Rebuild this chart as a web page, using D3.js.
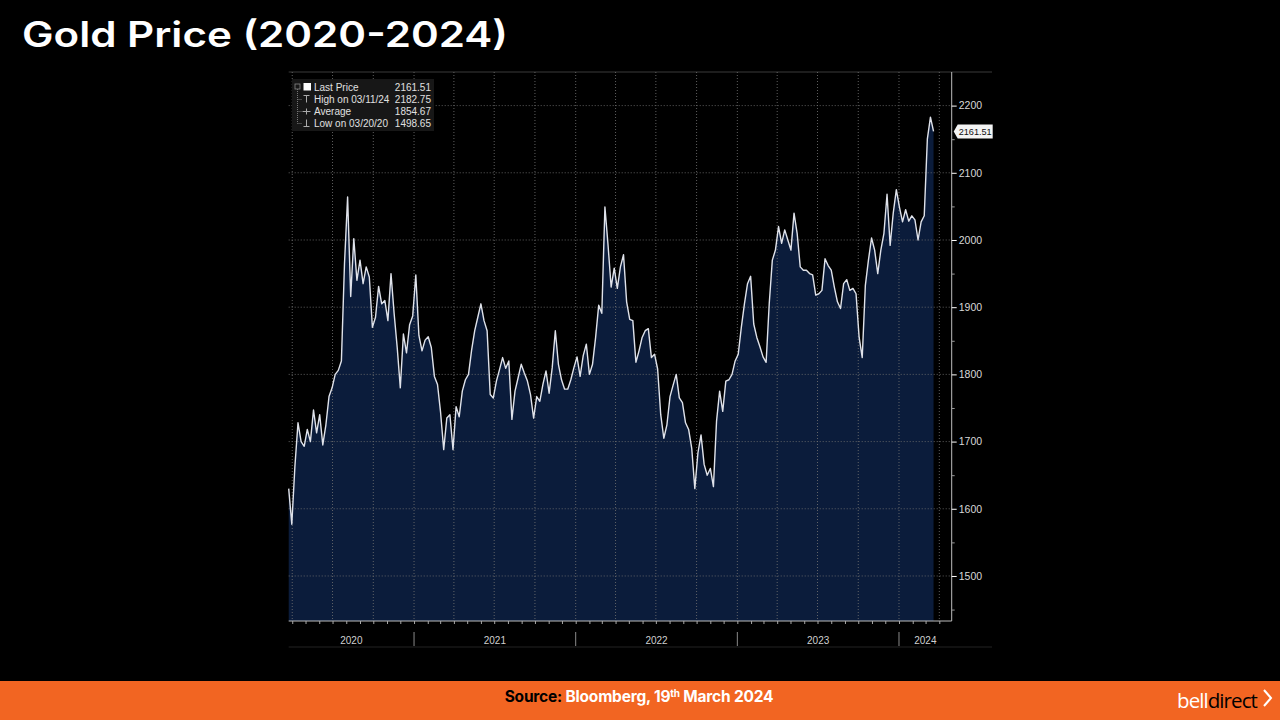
<!DOCTYPE html>
<html><head><meta charset="utf-8">
<script src="https://cdn.jsdelivr.net/npm/d3@7"></script>
<style>html,body{margin:0;padding:0;background:#000;} svg{display:block}</style>
</head><body>
<svg id="c" width="1280" height="720"></svg>
<script>
// ---- data (weekly samples) ----
const startDate = "2020-03-24";
const prices = [
  1630,1577,1663,1728,1700,1693,1718,1700,1747,1713,
  1740,1695,1725,1767,1780,1800,1806,1820,1965,2064,
  1916,2002,1940,1970,1935,1960,1945,1870,1885,1931,
  1905,1910,1880,1950,1891,1840,1780,1860,1832,1874,
  1887,1948,1858,1835,1851,1856,1840,1797,1785,1743,
  1688,1735,1740,1688,1752,1737,1775,1792,1800,1836,
  1865,1885,1905,1880,1865,1770,1765,1790,1807,1825,
  1809,1820,1733,1775,1795,1815,1802,1790,1770,1735,
  1767,1760,1785,1805,1772,1810,1865,1815,1792,1778,
  1778,1792,1810,1826,1797,1828,1845,1800,1815,1855,
  1903,1891,2049,1993,1930,1958,1928,1960,1978,1908,
  1882,1880,1818,1835,1855,1865,1868,1825,1830,1808,
  1740,1705,1725,1767,1784,1800,1765,1758,1728,1718,
  1690,1630,1683,1710,1666,1650,1660,1633,1730,1775,
  1745,1790,1792,1800,1820,1830,1870,1905,1935,1946,
  1875,1855,1841,1826,1818,1905,1970,1985,2020,1995,
  2015,2000,1985,2040,2010,1960,1955,1955,1950,1948,
  1918,1920,1925,1972,1962,1955,1930,1908,1898,1935,
  1941,1925,1928,1920,1855,1825,1932,1970,2003,1985,
  1950,1985,2010,2068,1992,2040,2075,2049,2027,2045,
  2028,2036,2030,2000,2027,2036,2150,2182.75,2161.51
];
const yTicks = [1500,1600,1700,1800,1900,2000,2100,2200];
const yMinorTicks = [1450,1550,1650,1750,1850,1950,2050,2150];
const yearLabels = ["2020","2021","2022","2023","2024"];
const legendLabels = ["Last Price","High on 03/11/24","Average","Low on 03/20/20"];
const legendValues = ["2161.51","2182.75","1854.67","1498.65"];
const lastPrice = 2161.51;
const titleText = "Gold Price (2020-2024)";

// ---- setup ----
const svg = d3.select("#c");
svg.append("rect").attr("width",1280).attr("height",720).attr("fill","#000");

const parse = d3.timeParse("%Y-%m-%d");
const t0 = parse(startDate);
const dates = prices.map((_, i) => d3.timeDay.offset(t0, 7 * i));
const data = prices.map((p, i) => ({date: dates[i], value: p}));

const L = 288.7, R = 951.7, T = 72, B = 621;
const x = d3.scaleTime().domain([t0, parse("2024-04-29")]).range([L, R]);
const y = d3.scaleLinear().domain([1433, 2250]).range([B, T]);
const small = "'Liberation Sans', Arial, sans-serif";

// title
svg.append("text").attr("x",22).attr("y",47)
  .attr("font-family","Inter, 'Open Sans', sans-serif").attr("font-weight",600)
  .attr("font-size",35).attr("fill","#fff")
  .attr("textLength",486).attr("lengthAdjust","spacingAndGlyphs")
  .text(titleText);

// panel borders
svg.append("line").attr("x1",L).attr("x2",992).attr("y1",T).attr("y2",T)
  .attr("stroke","#3a3a3a").attr("stroke-width",1);
svg.append("line").attr("x1",L).attr("x2",992).attr("y1",647).attr("y2",647)
  .attr("stroke","#222").attr("stroke-width",1);

// area + line
const area = d3.area().x(d => x(d.date)).y0(B).y1(d => y(d.value));
const line = d3.line().x(d => x(d.date)).y(d => y(d.value));
svg.append("path").datum(data).attr("d",area).attr("fill","#0b1c3b");

// grid
const g = svg.append("g");
g.selectAll(".hg").data(yTicks).join("line")
  .attr("x1",L).attr("x2",R).attr("y1",d=>y(d)).attr("y2",d=>y(d))
  .attr("stroke","#707070").attr("stroke-width",1).attr("stroke-dasharray","1,2").attr("opacity",0.85);
const quarters = d3.timeMonth.every(3).range(parse("2020-04-01"), x.domain()[1]);
g.selectAll(".vg").data(quarters).join("line")
  .attr("x1",d=>x(d)).attr("x2",d=>x(d)).attr("y1",T).attr("y2",B)
  .attr("stroke","#707070").attr("stroke-width",1).attr("stroke-dasharray","1,2").attr("opacity",0.85);

svg.append("path").datum(data).attr("d",line).attr("fill","none")
  .attr("stroke","#dfe2ea").attr("stroke-width",1.4).attr("stroke-linejoin","round");

// right axis
svg.append("line").attr("x1",R).attr("x2",R).attr("y1",T).attr("y2",B).attr("stroke","#bdbdbd");
const ay = svg.append("g").attr("transform",`translate(${R},0)`)
  .call(d3.axisRight(y).tickValues(yTicks).tickSize(5).tickPadding(2).tickFormat(d3.format("d")));
ay.select(".domain").remove();
ay.selectAll("line").attr("stroke","#fff");
ay.selectAll("text").attr("fill","#d8d8d8").attr("font-family",small).attr("font-size",10.5);
const aym = svg.append("g").attr("transform",`translate(${R},0)`)
  .call(d3.axisRight(y).tickValues(yMinorTicks).tickSize(3).tickFormat(""));
aym.select(".domain").remove();
aym.selectAll("line").attr("stroke","#999");

// last price tag
const ly = y(lastPrice);
svg.append("path")
  .attr("d",`M${R+2},${ly} L${R+6},${ly-7} L${R+41},${ly-7} L${R+41},${ly+7} L${R+6},${ly+7} Z`)
  .attr("fill","#f4f4f4");
svg.append("text").attr("x",R+23.5).attr("y",ly+3.5).attr("text-anchor","middle")
  .attr("font-family",small).attr("font-size",9.5).attr("fill","#111")
  .attr("textLength",33).attr("lengthAdjust","spacingAndGlyphs")
  .text(d3.format(".2f")(lastPrice));

// bottom axis
svg.append("line").attr("x1",L).attr("x2",R).attr("y1",B).attr("y2",B).attr("stroke","#bdbdbd");
const ax = svg.append("g").attr("transform",`translate(0,${B})`)
  .call(d3.axisBottom(x).ticks(d3.timeMonth.every(1)).tickSize(3).tickFormat(""));
ax.select(".domain").remove();
ax.selectAll("line").attr("stroke","#aaa");

const yearStarts = d3.timeYear.range(parse("2021-01-01"), x.domain()[1]);
svg.selectAll(".ysep").data(yearStarts).join("line")
  .attr("x1",d=>x(d)).attr("x2",d=>x(d)).attr("y1",632).attr("y2",646)
  .attr("stroke","#8a8a8a").attr("stroke-width",1);
svg.selectAll(".ylab").data(yearLabels).join("text")
  .attr("x", d => {
    const a = Math.max(x(new Date(+d,0,1)), L);
    const b = Math.min(x(new Date(+d+1,0,1)), R);
    return (a+b)/2;
  })
  .attr("y",644).attr("text-anchor","middle")
  .attr("font-family",small).attr("font-size",10).attr("fill","#cfcfcf")
  .text(d=>d);

// legend
const lg = svg.append("g");
lg.append("rect").attr("x",292).attr("y",79).attr("width",142).attr("height",52).attr("fill","#171717");
const rowY = [87.5, 99.5, 111.5, 123.5];
lg.append("rect").attr("x",295).attr("y",84).attr("width",5).attr("height",5)
  .attr("fill","none").attr("stroke","#888").attr("stroke-width",0.8);
lg.append("line").attr("x1",297.5).attr("x2",297.5).attr("y1",89).attr("y2",rowY[3])
  .attr("stroke","#777").attr("stroke-dasharray","1,1");
lg.selectAll(".br").data(rowY.slice(1)).join("line")
  .attr("x1",297.5).attr("x2",302).attr("y1",d=>d).attr("y2",d=>d)
  .attr("stroke","#777").attr("stroke-dasharray","1,1");
lg.append("rect").attr("x",303.5).attr("y",83).attr("width",7.5).attr("height",7.5).attr("fill","#fff");
lg.append("path").attr("d",`M303.5,${rowY[1]-4} H309.5 M306.5,${rowY[1]-4} V${rowY[1]+3}`).attr("stroke","#aaa").attr("fill","none");
lg.append("path").attr("d",`M302.5,${rowY[2]} H310.5 M306.5,${rowY[2]-3} V${rowY[2]+3}`).attr("stroke","#aaa").attr("fill","none");
lg.append("path").attr("d",`M303.5,${rowY[3]+3} H309.5 M306.5,${rowY[3]-4} V${rowY[3]+3}`).attr("stroke","#aaa").attr("fill","none");
lg.selectAll(".lt").data(legendLabels).join("text")
  .attr("x",314).attr("y",(d,i)=>rowY[i]+3.5)
  .attr("font-family",small).attr("font-size",10).attr("fill","#e0e0e0")
  .text(d=>d);
lg.selectAll(".lv").data(legendValues).join("text")
  .attr("x",431).attr("y",(d,i)=>rowY[i]+3.5).attr("text-anchor","end")
  .attr("font-family",small).attr("font-size",10).attr("fill","#e0e0e0")
  .text(d=>d);

// footer
svg.append("rect").attr("x",0).attr("y",681).attr("width",1280).attr("height",39).attr("fill","#f26522");
const ft = svg.append("text").attr("x",639).attr("y",702).attr("text-anchor","middle")
  .attr("font-family","Inter, 'Open Sans', sans-serif").attr("font-weight",700).attr("font-size",15.5)
  .attr("letter-spacing",-0.2);
ft.append("tspan").attr("fill","#000").text("Source: ");
ft.append("tspan").attr("fill","#fff").text("Bloomberg, 19");
ft.append("tspan").attr("fill","#fff").attr("font-size",10).attr("dy",-5).text("th");
ft.append("tspan").attr("fill","#fff").attr("dy",5).text(" March 2024");

const logo = svg.append("text").attr("x",1177).attr("y",708)
  .attr("font-family","'Open Sans', sans-serif").attr("font-weight",400).attr("font-size",20)
  .attr("letter-spacing",-0.9).attr("textLength",80).attr("lengthAdjust","spacingAndGlyphs");
logo.append("tspan").attr("fill","#fff").text("bell");
logo.append("tspan").attr("fill","#000").text("direct");
svg.append("path").attr("d","M1264,690 L1271,698 L1264,706").attr("fill","none")
  .attr("stroke","#fff").attr("stroke-width",2);
</script>
</body></html>
